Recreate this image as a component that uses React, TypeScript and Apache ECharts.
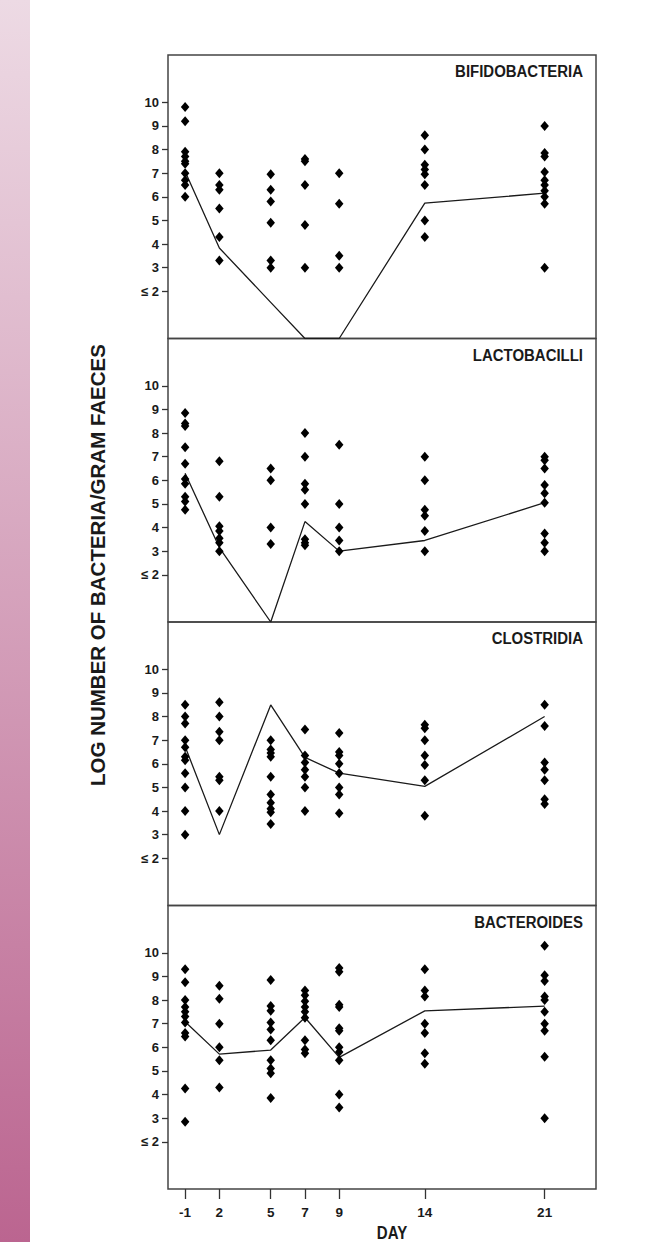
import React, { useEffect, useRef } from "react";
import * as echarts from "echarts";

const days = [-1, 2, 5, 7, 9, 14, 21];
const xTickLabels = ["-1", "2", "5", "7", "9", "14", "21"];
const yTickValues = [2, 3, 4, 5, 6, 7, 8, 9, 10];
const panelTitles = ["BIFIDOBACTERIA", "LACTOBACILLI", "CLOSTRIDIA", "BACTEROIDES"];

const bifidoValues: number[][] = [
  [9.8, 9.2, 7.9, 7.7, 7.5, 7.4, 7.0, 6.7, 6.5, 6.0],
  [7.0, 6.5, 6.3, 5.5, 4.3, 3.3],
  [6.95, 6.3, 5.8, 4.9, 3.3, 3.0],
  [7.6, 7.5, 6.5, 4.8, 3.0],
  [7.0, 5.7, 3.5, 3.0],
  [8.6, 8.0, 7.35, 7.15, 6.95, 6.5, 5.0, 4.3],
  [9.0, 7.85, 7.7, 7.05, 6.7, 6.5, 6.25, 6.0, 5.7, 3.0],
];
const bifidoLine = [7.07, 3.83, 1.53, 0, 0, 5.73, 6.15];

const lactoValues: number[][] = [
  [8.85, 8.4, 8.3, 7.4, 6.7, 6.05, 5.85, 5.3, 5.1, 4.75],
  [6.8, 5.3, 4.05, 3.85, 3.55, 3.35, 3.0],
  [6.5, 6.0, 4.0, 3.3],
  [8.0, 7.0, 5.85, 5.6, 5.0, 3.5, 3.35, 3.25],
  [7.5, 5.0, 4.0, 3.45, 3.0],
  [7.0, 6.0, 4.75, 4.5, 3.85, 3.0],
  [7.0, 6.85, 6.5, 5.8, 5.45, 5.05, 3.75, 3.35, 3.0],
];
const lactoLine = [6.3, 3.15, 0, 4.25, 3.0, 3.45, 5.05];

const clostValues: number[][] = [
  [8.5, 8.0, 7.7, 7.0, 6.7, 6.3, 6.15, 5.6, 5.0, 4.0, 3.0],
  [8.6, 8.0, 7.35, 7.0, 5.45, 5.3, 4.0],
  [7.0, 6.6, 6.45, 6.3, 5.45, 4.7, 4.35, 4.1, 3.95, 3.45],
  [7.45, 6.35, 6.05, 5.75, 5.45, 5.0, 4.0],
  [7.3, 6.5, 6.35, 6.0, 5.6, 5.0, 4.7, 3.9],
  [7.65, 7.5, 7.0, 6.35, 5.95, 5.3, 3.8],
  [8.5, 7.6, 6.05, 5.75, 5.3, 4.5, 4.3],
];
const clostLine = [6.73, 3.0, 8.49, 6.27, 5.6, 5.04, 8.0];

const bacterValues: number[][] = [
  [9.3, 8.75, 8.0, 7.7, 7.5, 7.3, 7.05, 6.6, 6.45, 4.25, 2.85],
  [8.6, 8.05, 7.0, 6.0, 5.45, 4.3],
  [8.85, 7.75, 7.55, 7.05, 6.75, 6.3, 5.45, 5.1, 4.9, 3.85],
  [8.4, 8.2, 7.95, 7.7, 7.5, 7.25, 6.3, 5.9, 5.75],
  [9.35, 9.2, 7.8, 7.7, 6.8, 6.7, 6.0, 5.8, 5.45, 4.0, 3.45],
  [9.3, 8.4, 8.15, 7.0, 6.6, 5.75, 5.3],
  [10.3, 9.05, 8.8, 8.15, 8.0, 7.5, 7.0, 6.7, 5.6, 3.0],
];
const bacterLine = [7.08, 5.71, 5.88, 7.26, 5.57, 7.54, 7.74];

const panelValues = [bifidoValues, lactoValues, clostValues, bacterValues];
const panelLines = [bifidoLine, lactoLine, clostLine, bacterLine];

// Axis break: day -1 is drawn at position 0 (one step left of day 2's spacing)
const dayPos = (d: number) => (d === -1 ? 0 : d);
const xTickPositions = days.map(dayPos);

const SANS = "'Liberation Sans', Arial, sans-serif";

export default function App() {
  const ref = useRef<HTMLDivElement>(null);
  useEffect(() => {
    if (!ref.current) return;
    const chart = echarts.init(ref.current, null, { renderer: "svg" });
    const gridLeft = 168;
    const gridWidth = 428;
    const gridTop0 = 55;
    const gridH = 283.5;

    const grids: any[] = [];
    const xAxes: any[] = [];
    const yAxes: any[] = [];
    const series: any[] = [];
    const graphics: any[] = [
      {
        type: "rect",
        shape: { x: 0, y: 0, width: 30, height: 1242 },
        style: {
          fill: new echarts.graphic.LinearGradient(0, 0, 0, 1, [
            { offset: 0, color: "#eddae4" },
            { offset: 1, color: "#bb6590" },
          ]),
        },
        silent: true,
      },
      {
        type: "text",
        x: 97,
        y: 565,
        rotation: Math.PI / 2,
        style: {
          text: "LOG NUMBER OF BACTERIA/GRAM FAECES",
          font: `bold 20.5px ${SANS}`,
          fill: "#1a1a1a",
          align: "center",
          verticalAlign: "middle",
        },
      },
      {
        type: "text",
        x: 392,
        y: 1233,
        scaleX: 0.86,
        style: {
          text: "DAY",
          font: `bold 17.5px ${SANS}`,
          fill: "#1a1a1a",
          align: "center",
          verticalAlign: "middle",
        },
      },
    ];

    for (let i = 0; i < 4; i++) {
      const top = gridTop0 + i * gridH;
      const isLast = i === 3;
      grids.push({
        left: gridLeft,
        top,
        width: gridWidth,
        height: gridH,
        show: true,
        borderColor: "#444",
        borderWidth: 1.5,
        backgroundColor: "transparent",
      });
      xAxes.push({
        type: "value",
        gridIndex: i,
        min: -1,
        max: 24,
        splitLine: { show: false },
        axisLine: { show: false, onZero: false },
        axisTick: {
          show: isLast,
          length: 10,
          customValues: xTickPositions,
          lineStyle: { color: "#333", width: 1.3 },
        },
        axisLabel: {
          show: isLast,
          customValues: xTickPositions,
          margin: 16,
          formatter: (v: number) => {
            const k = xTickPositions.indexOf(v);
            return k >= 0 ? xTickLabels[k] : "";
          },
          fontFamily: SANS,
          fontWeight: "bold",
          fontSize: 13.5,
          color: "#1a1a1a",
        },
      });
      yAxes.push({
        type: "value",
        gridIndex: i,
        min: 0,
        max: 12,
        splitLine: { show: false },
        axisLine: { show: false, onZero: false },
        axisTick: {
          show: true,
          length: 6,
          customValues: yTickValues,
          lineStyle: { color: "#333", width: 1.3 },
        },
        axisLabel: {
          customValues: yTickValues,
          margin: 9,
          formatter: (v: number) => (v === 2 ? "≤ 2" : String(v)),
          fontFamily: SANS,
          fontWeight: "bold",
          fontSize: 13,
          color: "#1a1a1a",
        },
      });
      const pts: number[][] = [];
      panelValues[i].forEach((vals, k) => {
        vals.forEach((v) => pts.push([dayPos(days[k]), v]));
      });
      series.push({
        type: "scatter",
        xAxisIndex: i,
        yAxisIndex: i,
        data: pts,
        symbol: "diamond",
        symbolSize: [8.5, 10],
        itemStyle: { color: "#000", opacity: 1 },
        z: 3,
      });
      series.push({
        type: "line",
        xAxisIndex: i,
        yAxisIndex: i,
        data: panelLines[i].map((v, k) => [dayPos(days[k]), v]),
        showSymbol: false,
        symbol: "none",
        lineStyle: { color: "#1a1a1a", width: 1.3 },
        z: 2,
      });
      graphics.push({
        type: "text",
        x: 583,
        y: top + 16.5,
        scaleX: 0.88,
        style: {
          text: panelTitles[i],
          font: `bold 17px ${SANS}`,
          fill: "#1a1a1a",
          align: "right",
          verticalAlign: "middle",
        },
      });
    }

    chart.setOption({
      animation: false,
      backgroundColor: "#ffffff",
      grid: grids,
      xAxis: xAxes,
      yAxis: yAxes,
      series,
      graphic: graphics,
    });
    return () => chart.dispose();
  }, []);
  return (
    <div
      ref={ref}
      style={{ position: "absolute", left: 0, top: 0, width: 665, height: 1242 }}
    />
  );
}
